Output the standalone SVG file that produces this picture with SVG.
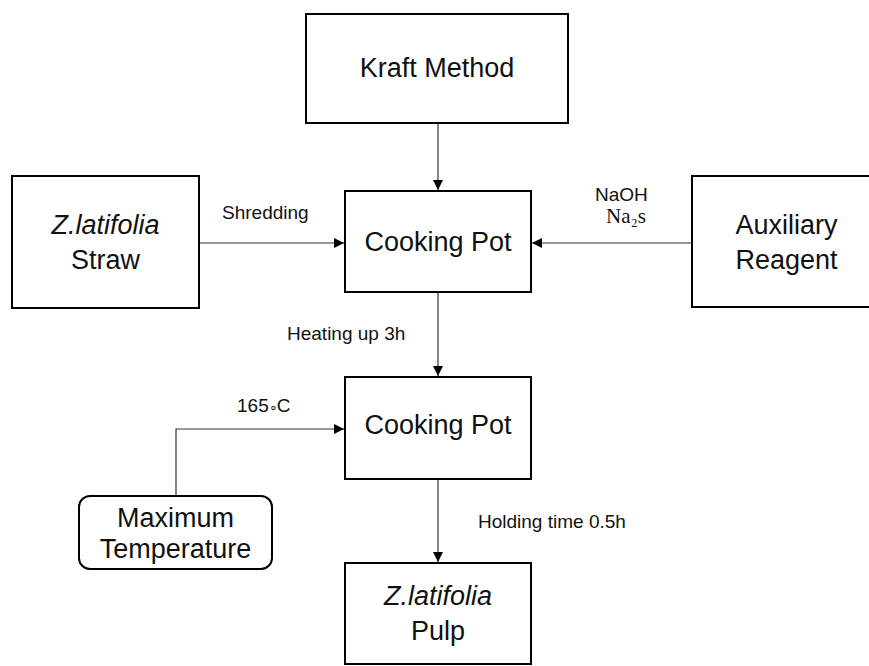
<svg xmlns="http://www.w3.org/2000/svg" width="869" height="666" viewBox="0 0 869 666">
<style>
.box{fill:#fff;stroke:#000;stroke-width:2}
.node{font-family:"Liberation Sans",Arial,sans-serif;font-size:27px;fill:#111;text-anchor:middle}
.lbl{font-family:"Liberation Sans",Arial,sans-serif;font-size:19px;fill:#111}
.conn{fill:none;stroke:#333;stroke-width:1.2}
</style>
<defs>
<marker id="ah" viewBox="0 0 10 10" refX="10" refY="5" markerWidth="10" markerHeight="10" markerUnits="userSpaceOnUse" orient="auto">
<path d="M0,0 L10,5 L0,10 Z" fill="#000"/>
</marker>
</defs>
<rect width="869" height="666" fill="#fff"/>
<g id="connectors">
<path class="conn" d="M438,123 V190" marker-end="url(#ah)"/>
<path class="conn" d="M199,243 H344" marker-end="url(#ah)"/>
<path class="conn" d="M692,243 H532" marker-end="url(#ah)"/>
<path class="conn" d="M438,292 V376" marker-end="url(#ah)"/>
<path class="conn" d="M176,496 V429 H344" marker-end="url(#ah)"/>
<path class="conn" d="M438,479 V562" marker-end="url(#ah)"/>
<text class="lbl" x="222" y="219">Shredding</text>
<text class="lbl" x="595" y="201">NaOH</text>
<text x="606" y="223" font-family="'Liberation Serif','DejaVu Serif',serif" font-size="21" fill="#111">Na₂s</text>
<text class="lbl" x="287" y="340">Heating up 3h</text>
<text class="lbl" x="237" y="412">165<tspan font-size="14" letter-spacing="-1">∘</tspan>C</text>
<text class="lbl" x="478" y="528">Holding time 0.5h</text>
</g>
<g id="kraft">
<rect class="box" x="306" y="14" width="262" height="109"/>
<text class="node" x="437" y="77">Kraft Method</text>
</g>
<g id="straw">
<rect class="box" x="12" y="176" width="187" height="132"/>
<text class="node" x="105.5" y="234" font-style="italic">Z.latifolia</text>
<text class="node" x="105.5" y="269">Straw</text>
</g>
<g id="pot1">
<rect class="box" x="345" y="191" width="186" height="101"/>
<text class="node" x="438" y="251">Cooking Pot</text>
</g>
<g id="reagent">
<rect class="box" x="692" y="176" width="189" height="131"/>
<text class="node" x="786.5" y="234">Auxiliary</text>
<text class="node" x="786.5" y="269">Reagent</text>
</g>
<g id="pot2">
<rect class="box" x="345" y="377" width="186" height="102"/>
<text class="node" x="438" y="434">Cooking Pot</text>
</g>
<g id="maxtemp">
<rect class="box" x="79" y="496" width="193" height="73" rx="11"/>
<text class="node" x="175.5" y="527">Maximum</text>
<text class="node" x="175.5" y="558">Temperature</text>
</g>
<g id="pulp">
<rect class="box" x="345" y="563" width="186" height="101"/>
<text class="node" x="438" y="605" font-style="italic">Z.latifolia</text>
<text class="node" x="438" y="640">Pulp</text>
</g>
</svg>
